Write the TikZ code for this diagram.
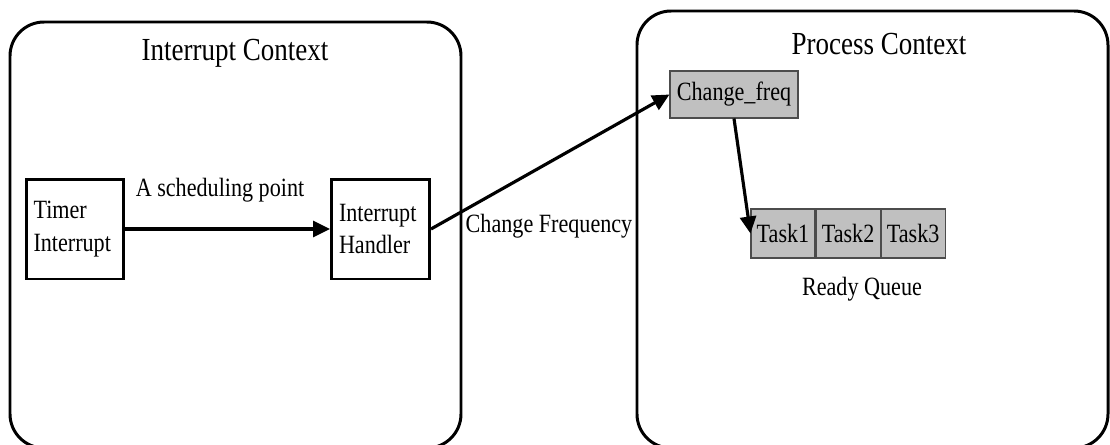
\documentclass[tikz,border=0pt]{standalone}
\usepackage{fontspec}
\setmainfont{Liberation Serif}[FakeStretch=0.84]
\usepackage{tikz}
\usetikzlibrary{positioning}
\usetikzlibrary{arrows.meta}
\definecolor{qgray}{HTML}{C0C0C0}
\tikzstyle{context}=[draw, line width=1.7pt, rounded corners=0.68cm]
\tikzstyle{unit}=[draw, line width=1.7pt, minimum width=1.96cm, minimum height=2cm, text width=1.66cm, inner sep=0.15cm, align=left, font=\fontsize{15}{18.5}\selectfont]
\tikzstyle{task}=[draw=black!70, fill=qgray, line width=0.6pt, minimum width=1.28cm, minimum height=0.98cm, inner sep=0pt, font=\fontsize{15}{18}\selectfont]
\tikzstyle{title}=[font=\fontsize{18.3}{22}\selectfont]
\tikzstyle{note}=[font=\fontsize{15}{18}\selectfont]
\tikzstyle{flow}=[line width=1.8pt, -{Triangle[length=0.34cm, width=0.32cm]}]

\begin{document}
\begin{tikzpicture}[x=0.02cm, y=-0.02cm]
            \useasboundingbox (0,0) rectangle (1110,444);
            \draw[context] (10,22) rectangle (461,448);
            \draw[context] (637,11) rectangle (1108,448);
            \node[title] (ictx) at (235,53) {Interrupt Context};
            \node[title] (pctx) at (879,44) {Process Context};

            \node[unit] (timer) at (75,229) {Timer\\Interrupt};
            \node[unit] (handler) at (380.5,229) {Interrupt\\Handler};
            \node[note] (sched) at (220,190) {A scheduling point};
            \node[note] (chg) at (549,226) {Change Frequency};

            \node[task, minimum width=2.56cm, minimum height=0.94cm] (cf) at (734,94.5) {Change\_freq};
            \node[task] (t1) at (783,233.5) {Task1};
            \node[task, right=0pt of t1] (t2) {Task2};
            \node[task, right=0pt of t2] (t3) {Task3};
            \node[note] (rq) at (862,289) {Ready Queue};

            \draw[flow] (timer) -- (handler);
            \draw[flow] (handler.east) -- (cf.west);
            \draw[flow] (cf.south) -- (t1.west);
        \end{tikzpicture}
\end{document}
